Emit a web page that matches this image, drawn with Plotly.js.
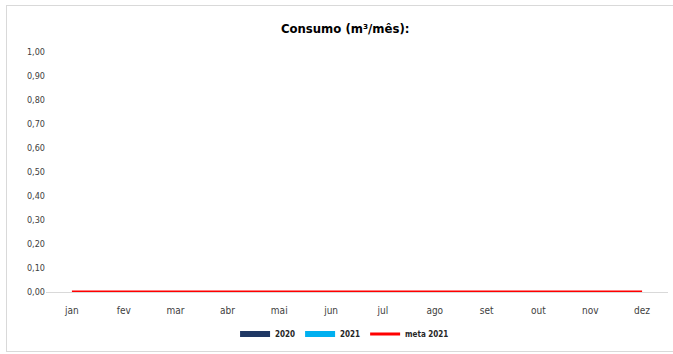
<!DOCTYPE html>
<html>
<head>
<meta charset="utf-8">
<script src="https://cdn.plot.ly/plotly-3.0.1.min.js"></script>
<style>
  html, body { margin: 0; padding: 0; background: #fff; }
  #wrap { position: absolute; left: 6px; top: 5px; width: 667px; height: 345px;
          border-left: 1px solid #d9d9d9; border-top: 1px solid #d9d9d9; border-bottom: 1px solid #d9d9d9; }
  #chart { width: 667px; height: 345px; }
</style>
</head>
<body>
<div id="wrap"><div id="chart"></div></div>
<script>
const months = ['jan','fev','mar','abr','mai','jun','jul','ago','set','out','nov','dez'];
const consumo2020 = [0,0,0,0,0,0,0,0,0,0,0,0];
const consumo2021 = [0,0,0,0,0,0,0,0,0,0,0,0];
const meta2021 = [0,0,0,0,0,0,0,0,0,0,0,0];

const FONT = '"DejaVu Sans Condensed", "Liberation Sans Narrow", "DejaVu Sans", sans-serif';

const traces = [
  { type: 'bar', name: '2020', x: months, y: consumo2020, marker: { color: '#1F3864' },
    legendgroup: 'a', showlegend: false },
  { type: 'bar', name: '2021', x: months, y: consumo2021, marker: { color: '#00B0F0' },
    legendgroup: 'b', showlegend: false },
  { type: 'scatter', mode: 'lines', name: '2020', x: [null], y: [null],
    line: { color: '#1F3864', width: 6 }, legendgroup: 'a', hoverinfo: 'skip' },
  { type: 'scatter', mode: 'lines', name: '2021', x: [null], y: [null],
    line: { color: '#00B0F0', width: 6 }, legendgroup: 'b', hoverinfo: 'skip' },
  { type: 'scatter', mode: 'lines', name: 'meta 2021', x: months, y: meta2021,
    line: { color: '#FF0000', width: 3 } }
];

const layout = {
  width: 667, height: 345,
  margin: { l: 39, r: 6, t: 46, b: 59, autoexpand: false },
  paper_bgcolor: '#ffffff', plot_bgcolor: '#ffffff',
  separators: ',.',
  font: { family: FONT, size: 9, color: '#404040' },
  title: { text: '<b>Consumo (m³/mês):</b>', font: { family: FONT, size: 13, color: '#000000' },
           x: 0.507, xref: 'container', xanchor: 'center', y: 0.936, yanchor: 'middle' },
  barmode: 'group',
  xaxis: { type: 'category', showgrid: false, zeroline: false, showline: true,
           linecolor: '#d9d9d9', linewidth: 1, ticks: 'outside', ticklen: 9,
           tickcolor: 'rgba(0,0,0,0)', automargin: false,
           tickfont: { family: FONT, size: 10, color: '#404040' }, fixedrange: true },
  yaxis: { range: [0, 1.0], dtick: 0.1, tick0: 0, tickformat: '.2f', showgrid: false,
           zeroline: false, showline: false, ticks: '', automargin: false,
           tickfont: { family: FONT, size: 9, color: '#404040' }, fixedrange: true },
  showlegend: true,
  legend: { orientation: 'h', x: 0.48, xanchor: 'center', y: -0.175, yanchor: 'middle',
            font: { family: FONT, size: 8, color: '#262626', weight: 'bold' },
            itemwidth: 30, traceorder: 'normal' }
};

Plotly.newPlot('chart', traces, layout, { displayModeBar: false, staticPlot: true });
</script>
</body>
</html>
